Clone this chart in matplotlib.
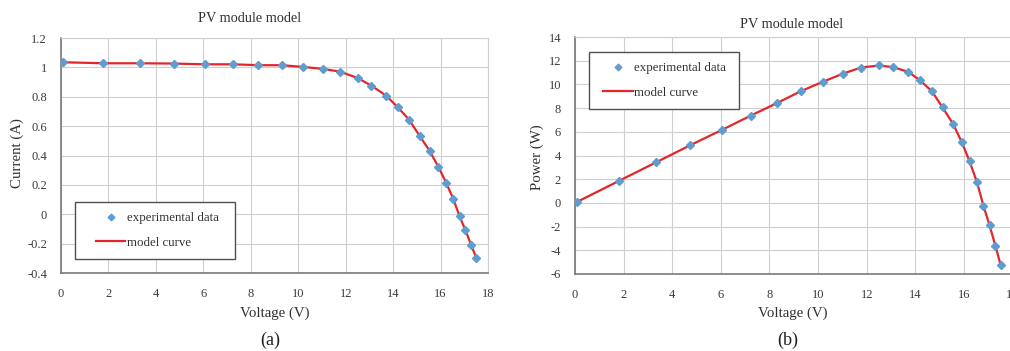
import matplotlib
matplotlib.use("Agg")
import matplotlib.pyplot as plt
from matplotlib.ticker import MultipleLocator, FuncFormatter
from matplotlib.legend_handler import HandlerLine2D

# values
voltage = [0.08, 1.79, 3.33, 4.75, 6.06, 7.23, 8.30, 9.31, 10.21, 11.03, 11.77, 12.50, 13.08,
           13.70, 14.20, 14.68, 15.12, 15.54, 15.90, 16.23, 16.53, 16.80, 17.05, 17.29, 17.51]
current = [1.035, 1.028, 1.028, 1.026, 1.021, 1.021, 1.015, 1.015, 1.003, 0.990, 0.971, 0.928, 0.876,
           0.808, 0.728, 0.642, 0.533, 0.431, 0.325, 0.216, 0.107, -0.014, -0.110, -0.209, -0.300]
power = [0.08, 1.84, 3.42, 4.88, 6.18, 7.37, 8.42, 9.45, 10.24, 10.92, 11.43, 11.60, 11.46,
         11.07, 10.34, 9.42, 8.06, 6.70, 5.17, 3.50, 1.77, -0.24, -1.88, -3.61, -5.25]

plt.rcParams['font.family'] = ['Liberation Serif', 'DejaVu Serif']

blue = '#5f9ccf'
red = '#e4262b'
tick_col = '#3a3a3a'
txt_col = '#303030'

fig = plt.figure(figsize=(10.1, 3.51), dpi=100)

def style(ax, xlim, ylim, ystep):
    ax.set_xlim(*xlim)
    ax.set_ylim(*ylim)
    ax.xaxis.set_major_locator(MultipleLocator(2))
    ax.yaxis.set_major_locator(MultipleLocator(ystep))
    ax.yaxis.set_major_formatter(FuncFormatter(lambda v, p: '%g' % round(v, 2)))
    ax.grid(True, color='#cfcfcf', lw=0.8)
    ax.set_axisbelow(True)
    for s in ['top', 'right']:
        ax.spines[s].set_color('#cfcfcf')
        ax.spines[s].set_linewidth(0.8)
    for s in ['left', 'bottom']:
        ax.spines[s].set_color('#707070')
        ax.spines[s].set_linewidth(1.1)
    ax.tick_params(length=0, labelsize=9, colors=tick_col)
    ax.tick_params(axis='x', pad=11)
    ax.tick_params(axis='y', pad=10)

def draw(ax, y):
    ax.plot(voltage, y, '-', color=red, lw=1.6, label='model curve', zorder=2)
    ax.plot(voltage, y, 'D', color=blue, ms=4.5, ls='none', label='experimental data', zorder=3)

def legend(ax, anchor, xpad, tail):
    h, l = ax.get_legend_handles_labels()
    l = [s + tail for s in l[::-1]]
    hm = {hh: HandlerLine2D(xpad=xpad) for hh in h}
    leg = ax.legend(h[::-1], l, loc='upper left', bbox_to_anchor=anchor,
                    bbox_transform=fig.transFigure, fontsize=9.3, handlelength=2.3 + xpad,
                    handletextpad=0.1, markerscale=0.75, fancybox=False, framealpha=1,
                    edgecolor='#505050', borderpad=0.8, borderaxespad=0, labelspacing=0.95,
                    labelcolor=txt_col, handler_map=hm)
    leg.get_frame().set_linewidth(1.0)

# (a) I-V curve
ax1 = fig.add_axes([0.0604, 0.2222, 0.4228, 0.6695])
style(ax1, (0, 18), (-0.4, 1.2), 0.2)
draw(ax1, current)
legend(ax1, (0.0743, 0.4245), 0.8, '  ')

# (b) P-V curve
ax2 = fig.add_axes([0.5693, 0.2194, 0.4333, 0.675])
style(ax2, (0, 18), (-6, 14), 2)
draw(ax2, power)
legend(ax2, (0.583, 0.852), 0.3, ' ')

# titles and labels in figure coordinates
fig.text(250/1010, 1-18/351, 'PV module model', ha='center', va='center', fontsize=10.3, color=txt_col)
fig.text(792/1010, 1-24/351, 'PV module model', ha='center', va='center', fontsize=10.3, color=txt_col)
fig.text(275/1010, 1-313/351, 'Voltage (V)', ha='center', va='center', fontsize=10.7, color=txt_col)
fig.text(793/1010, 1-313/351, 'Voltage (V)', ha='center', va='center', fontsize=10.7, color=txt_col)
fig.text(17/1010, 1-153/351, 'Current (A)', ha='center', va='center', rotation=90, fontsize=10.7, color=txt_col)
fig.text(537/1010, 1-157/351, 'Power (W)', ha='center', va='center', rotation=90, fontsize=10.7, color=txt_col)
fig.text(270/1010, 1-340/351, '(a)', ha='center', va='center', fontsize=13, color='#202020')
fig.text(788/1010, 1-340/351, '(b)', ha='center', va='center', fontsize=13, color='#202020')

fig.savefig('out.png', dpi=100)
